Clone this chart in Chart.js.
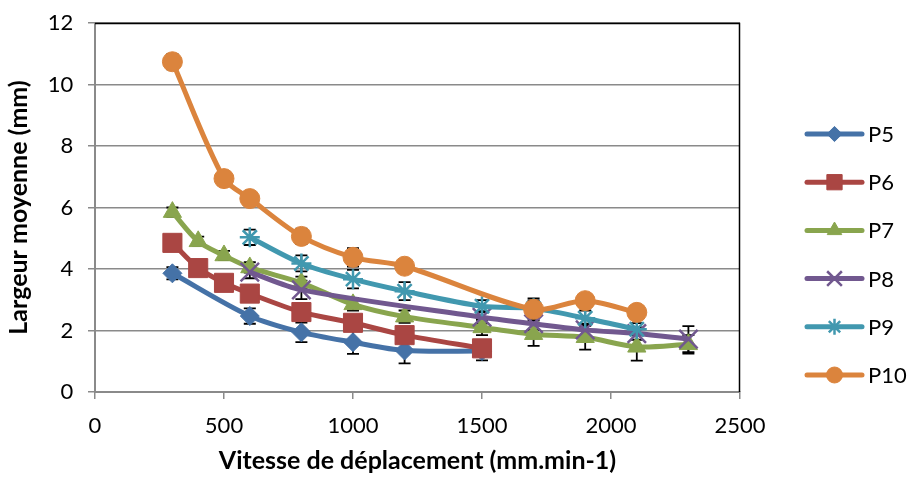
<!DOCTYPE html>
<html>
<head>
<meta charset="utf-8">
<script src="https://cdn.jsdelivr.net/npm/chart.js@4"></script>
<style>
  html, body { margin: 0; padding: 0; background: #fff; }
  #wrap { width: 911px; height: 480px; }
</style>
</head>
<body>
<div id="wrap"><canvas id="c" width="911" height="480"></canvas></div>
<script>
// valeurs (vitesse mm.min-1 -> largeur mm)
const seriesNames = ['P5', 'P6', 'P7', 'P8', 'P9', 'P10'];

const xP5 = [300, 600, 800, 1000, 1200, 1500];
const yP5 = [3.86, 2.47, 1.94, 1.62, 1.35, 1.33];
const eP5 = [0.2, 0.25, 0.32, 0.38, 0.42, 0.3];

const xP6 = [300, 400, 500, 600, 800, 1000, 1200, 1500];
const yP6 = [4.85, 4.03, 3.55, 3.2, 2.6, 2.25, 1.85, 1.42];
const eP6 = [0.12, 0.12, 0.12, 0.15, 0.15, 0.15, 0.15, 0.15];

const xP7 = [300, 400, 500, 600, 800, 1000, 1200, 1500, 1700, 1900, 2100, 2300];
const yP7 = [5.85, 4.9, 4.44, 4.05, 3.55, 2.85, 2.45, 2.1, 1.88, 1.78, 1.47, 1.55];
const eP7 = [0.15, 0.15, 0.15, 0.17, 0.2, 0.2, 0.2, 0.25, 0.38, 0.4, 0.45, 0.3];

const xP8 = [600, 800, 1500, 1700, 1900, 2100, 2300];
const yP8 = [3.9, 3.32, 2.43, 2.22, 2.02, 1.9, 1.72];
const eP8 = [0.2, 0.3, 0.2, 0.2, 0.2, 0.2, 0.42];

const xP9 = [600, 800, 1000, 1200, 1500, 1700, 1900, 2100];
const yP9 = [5.03, 4.18, 3.67, 3.28, 2.79, 2.72, 2.4, 2.04];
const eP9 = [0.25, 0.26, 0.3, 0.29, 0.2, 0.25, 0.25, 0.2];

const xP10 = [300, 500, 600, 800, 1000, 1200, 1700, 1900, 2100];
const yP10 = [10.74, 6.94, 6.29, 5.06, 4.38, 4.09, 2.69, 2.97, 2.59];
const eP10 = [0.25, 0.12, 0.12, 0.25, 0.3, 0.2, 0.35, 0.15, 0.15];

const xTicks = [0, 500, 1000, 1500, 2000, 2500];
const yTicks = [0, 2, 4, 6, 8, 10, 12];

const allX = [xP5, xP6, xP7, xP8, xP9, xP10];
const allY = [yP5, yP6, yP7, yP8, yP9, yP10];
const allErr = [eP5, eP6, eP7, eP8, eP9, eP10];

const colors = ['#4572A7', '#AA4643', '#89A54E', '#71588F', '#4198AF', '#DB843D'];
const styles = ['rectRot', 'rect', 'triangle', 'crossRot', 'star', 'circle'];
const radii = [9.5, 13.5, 10.5, 13, 10, 10];

const FONT = 'Lato, "Open Sans", sans-serif';

const datasets = seriesNames.map(function (name, i) {
    return {
        label: name,
        data: allX[i].map(function (x, j) { return { x: x, y: allY[i][j] }; }),
        err: allErr[i],
        borderColor: colors[i],
        backgroundColor: colors[i],
        pointBackgroundColor: colors[i],
        pointBorderColor: colors[i],
        pointBorderWidth: (styles[i] === 'crossRot' || styles[i] === 'star') ? 2.5 : 1,
        pointStyle: styles[i],
        pointRadius: radii[i],
        pointHoverRadius: radii[i],
        borderWidth: 5,
        tension: 0.3,
        fill: false,
        order: 5 - i
    };
});

// barres d'erreur + cadre noir haut/droite
const errorBars = {
    id: 'errorBars',
    beforeDatasetsDraw(chart) {
        const ctx = chart.ctx;
        const ys = chart.scales.y;
        const a = chart.chartArea;
        ctx.save();
        ctx.strokeStyle = '#000';
        ctx.lineWidth = 1.5;
        ctx.beginPath();
        ctx.moveTo(a.left, a.top + 0.5);
        ctx.lineTo(a.right - 0.5, a.top + 0.5);
        ctx.lineTo(a.right - 0.5, a.bottom);
        ctx.stroke();

        ctx.lineWidth = 1.8;
        chart.data.datasets.forEach(function (ds, i) {
            const meta = chart.getDatasetMeta(i);
            meta.data.forEach(function (pt, j) {
                const v = ds.data[j].y, e = ds.err[j];
                const top = ys.getPixelForValue(v + e);
                const bot = ys.getPixelForValue(v - e);
                ctx.beginPath();
                ctx.moveTo(pt.x, top); ctx.lineTo(pt.x, bot);
                ctx.moveTo(pt.x - 6, top); ctx.lineTo(pt.x + 6, top);
                ctx.moveTo(pt.x - 6, bot); ctx.lineTo(pt.x + 6, bot);
                ctx.stroke();
            });
        });
        ctx.restore();
    }
};

// légende : trait + marqueur
const lineLegend = {
    id: 'lineLegend',
    afterDraw(chart) {
        const ctx = chart.ctx;
        const x0 = chart.chartArea.right + 67;
        const y0 = 134;
        ctx.save();
        chart.data.datasets.forEach(function (ds, i) {
            const y = y0 + i * 48.2;
            ctx.strokeStyle = ds.borderColor;
            ctx.lineWidth = 5;
            ctx.lineCap = 'round';
            ctx.beginPath();
            ctx.moveTo(x0, y); ctx.lineTo(x0 + 55, y);
            ctx.stroke();
            ctx.lineCap = 'butt';
            ctx.fillStyle = ds.pointBackgroundColor;
            ctx.strokeStyle = ds.pointBorderColor;
            ctx.lineWidth = ds.pointBorderWidth;
            Chart.helpers.drawPoint(ctx, {
                pointStyle: ds.pointStyle,
                radius: ds.pointRadius * 0.8,
                rotation: 0,
                borderWidth: ds.pointBorderWidth
            }, x0 + 27.5, y);
            ctx.fillStyle = '#000';
            ctx.font = '22px ' + FONT;
            ctx.textBaseline = 'middle';
            ctx.textAlign = 'left';
            ctx.fillText(ds.label, x0 + 61, y + 1);
        });
        ctx.restore();
    }
};

const ctx = document.getElementById('c').getContext('2d');
new Chart(ctx, {
    type: 'line',
    data: { datasets: datasets },
    options: {
        responsive: false,
        animation: false,
        layout: { padding: { top: 23, right: 171, left: 0, bottom: 0 } },
        plugins: {
            legend: { display: false },
            tooltip: { enabled: false }
        },
        scales: {
            x: {
                type: 'linear',
                min: 0, max: 2500,
                afterBuildTicks: function (s) { s.ticks = xTicks.map(function (v) { return { value: v }; }); },
                afterFit: function (s) { s.height = 88; },
                grid: { drawOnChartArea: false, drawTicks: true, tickLength: 7, color: '#8a8a8a', lineWidth: 1.5 },
                border: { color: '#8a8a8a', width: 2 },
                ticks: { color: '#000', font: { family: FONT, size: 22 }, padding: 14, maxRotation: 0,
                         callback: function (v) { return String(v); } },
                title: { display: true, text: 'Vitesse de déplacement (mm.min-1)', color: '#000',
                         font: { family: FONT, size: 25, weight: 'bold' }, padding: { top: 4 } }
            },
            y: {
                min: 0, max: 12,
                afterBuildTicks: function (s) { s.ticks = yTicks.map(function (v) { return { value: v }; }); },
                afterFit: function (s) { s.width = 95; },
                grid: { drawTicks: true, tickLength: 7, color: '#8a8a8a', lineWidth: 1.5 },
                border: { color: '#8a8a8a', width: 2 },
                ticks: { color: '#000', font: { family: FONT, size: 22 }, padding: 9,
                         callback: function (v) { return String(v) + ' '; } },
                title: { display: true, text: 'Largeur moyenne (mm)', color: '#000',
                         font: { family: FONT, size: 25, weight: 'bold' }, padding: { bottom: 2 } }
            }
        }
    },
    plugins: [errorBars, lineLegend]
});
</script>
</body>
</html>
